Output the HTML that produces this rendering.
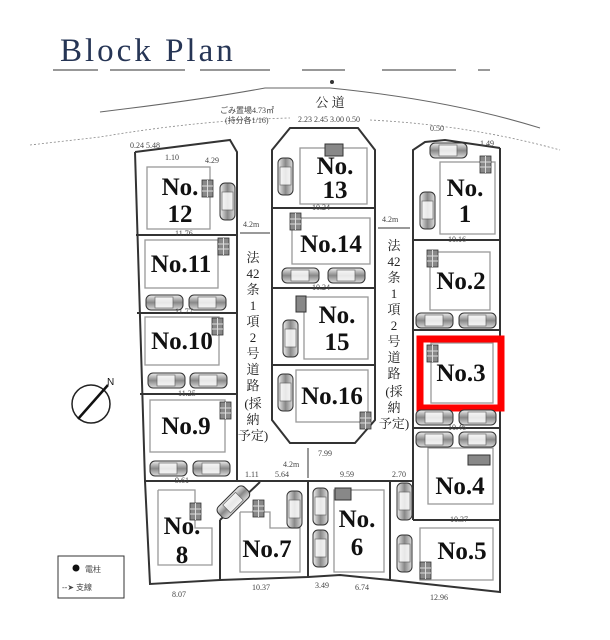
<!DOCTYPE html>
<html><head><meta charset="utf-8"><style>
html,body{margin:0;padding:0;background:#fff;width:610px;height:640px;overflow:hidden}
svg{display:block}
.n{font-family:"Liberation Serif",serif;font-size:25px;font-weight:bold;fill:#111;text-anchor:middle}
.d{font-family:"Liberation Serif",serif;font-size:8px;fill:#444}
.j{font-family:"Liberation Serif","Noto Serif CJK SC",serif;font-size:13px;fill:#222;text-anchor:middle}
</style></head><body>
<svg width="610" height="640" viewBox="0 0 610 640">
<defs>
<linearGradient id="g" x1="0" y1="0" x2="0" y2="1"><stop offset="0" stop-color="#eee"/><stop offset=".5" stop-color="#888"/><stop offset="1" stop-color="#ddd"/></linearGradient>
<linearGradient id="gv" x1="0" y1="0" x2="1" y2="0"><stop offset="0" stop-color="#eee"/><stop offset=".5" stop-color="#888"/><stop offset="1" stop-color="#ddd"/></linearGradient>
<g id="ch"><rect x="0" y="0" width="37" height="15" rx="5" fill="url(#g)" stroke="#333" stroke-width="1"/><rect x="9" y="2" width="18" height="11" fill="#fff" stroke="#555" stroke-width=".7" opacity=".8"/></g>
<g id="cv"><rect x="0" y="0" width="15" height="37" rx="5" fill="url(#gv)" stroke="#333" stroke-width="1"/><rect x="2" y="9" width="11" height="18" fill="#fff" stroke="#555" stroke-width=".7" opacity=".8"/></g>
<g id="m"><rect x="0" y="0" width="11" height="17" fill="#888" stroke="#333" stroke-width=".8"/><line x1="0" y1="6" x2="11" y2="6" stroke="#ddd"/><line x1="0" y1="11" x2="11" y2="11" stroke="#ddd"/><line x1="5.5" y1="0" x2="5.5" y2="17" stroke="#ddd"/></g>
</defs>
<text x="60" y="61" font-family="Liberation Serif,serif" font-size="33" fill="#263555" letter-spacing="3">Block Plan</text>
<g stroke="#777" stroke-width="1.5"><line x1="53" y1="70" x2="98" y2="70"/><line x1="110" y1="70" x2="185" y2="70"/><line x1="200" y1="70" x2="270" y2="70"/><line x1="302" y1="70" x2="345" y2="70"/><line x1="382" y1="70" x2="456" y2="70"/><line x1="478" y1="70" x2="490" y2="70"/></g>
<circle cx="332" cy="82" r="2" fill="#333"/>
<path d="M100,112 Q200,100 265,88 L330,88 Q450,100 540,128" fill="none" stroke="#666" stroke-width="1"/>
<path d="M30,145 L100,137 Q200,120 290,118" fill="none" stroke="#888" stroke-width=".8" stroke-dasharray="2,2"/>
<path d="M370,120 Q470,125 560,150" fill="none" stroke="#888" stroke-width=".8" stroke-dasharray="2,2"/>
<text x="330" y="107" class="j" font-size="12">公 道</text>
<text x="220" y="113" class="d" font-size="9">ごみ置場4.73㎡</text>
<text x="225" y="123" class="d" font-size="9">(持分各1/16)</text>
<g fill="none" stroke="#333" stroke-width="2">
<polyline points="135,152 230,140 237,152 237,481 145,481 135,152"/>
<line x1="136" y1="235" x2="237" y2="235"/><line x1="137" y1="313" x2="237" y2="313"/><line x1="140" y1="394" x2="237" y2="394"/>
<polyline points="145,481 150,584 220,580 308,577 340,575 390,580 500,592 500,148"/>
<line x1="237" y1="481" x2="413" y2="481"/>
<line x1="220" y1="520" x2="220" y2="580"/><line x1="220" y1="520" x2="260" y2="482"/>
<line x1="308" y1="481" x2="308" y2="577"/><line x1="390" y1="481" x2="390" y2="580"/>
<polyline points="413,520 413,150 425,142 445,140 500,148"/>
<line x1="413" y1="240" x2="500" y2="240"/><line x1="413" y1="330" x2="500" y2="330"/><line x1="413" y1="428" x2="500" y2="428"/><line x1="413" y1="520" x2="500" y2="520"/>
<polygon points="272,150 290,128 358,128 375,150 375,420 355,443 290,443 272,420"/>
<line x1="272" y1="208" x2="375" y2="208"/><line x1="272" y1="288" x2="375" y2="288"/><line x1="272" y1="365" x2="375" y2="365"/>
</g>
<g fill="none" stroke="#999" stroke-width="1.3">
<rect x="147" y="167" width="63" height="62"/><rect x="145" y="240" width="73" height="48"/><rect x="145" y="317" width="74" height="48"/><rect x="150" y="400" width="75" height="52"/>
<rect x="300" y="148" width="67" height="56"/><rect x="292" y="218" width="78" height="46"/><rect x="304" y="297" width="64" height="62"/><rect x="296" y="370" width="72" height="52"/>
<rect x="440" y="162" width="55" height="72"/><rect x="430" y="252" width="60" height="58"/><rect x="431" y="343" width="62" height="60"/><rect x="428" y="448" width="65" height="56"/><rect x="420" y="528" width="73" height="52"/>
<polyline points="158,490 195,490 195,528 212,528 212,565 158,565 158,490"/>
<polyline points="240,512 270,512 270,528 300,528 300,572 240,572 240,512"/>
<rect x="334" y="490" width="50" height="82"/>
</g>
<rect x="420" y="339" width="81" height="69" fill="none" stroke="#f00" stroke-width="7"/>
<text class="n" x="180" y="195">No.</text><text class="n" x="180" y="222">12</text>
<text class="n" x="181" y="272">No.11</text><text class="n" x="182" y="349">No.10</text><text class="n" x="186" y="434">No.9</text>
<text class="n" x="335" y="174">No.</text><text class="n" x="335" y="198">13</text>
<text class="n" x="331" y="252">No.14</text>
<text class="n" x="337" y="323">No.</text><text class="n" x="337" y="350">15</text>
<text class="n" x="332" y="404">No.16</text>
<text class="n" x="465" y="196">No.</text><text class="n" x="465" y="222">1</text>
<text class="n" x="461" y="289">No.2</text><text class="n" x="461" y="381">No.3</text>
<text class="n" x="460" y="494">No.4</text><text class="n" x="462" y="559">No.5</text>
<text class="n" x="357" y="527">No.</text><text class="n" x="357" y="555">6</text>
<text class="n" x="267" y="557">No.7</text>
<text class="n" x="182" y="534">No.</text><text class="n" x="182" y="563">8</text>
<use href="#m" x="202" y="180"/><use href="#m" x="218" y="238"/><use href="#m" x="212" y="318"/><use href="#m" x="220" y="402"/>
<use href="#m" x="290" y="213"/><use href="#m" x="253" y="500"/><use href="#m" x="190" y="503"/><use href="#m" x="360" y="412"/><use href="#m" x="427" y="345"/><use href="#m" x="480" y="156"/><use href="#m" x="427" y="250"/><use href="#m" x="420" y="562"/>
<rect x="325" y="144" width="18" height="12" fill="#888" stroke="#333"/><rect x="468" y="455" width="22" height="10" fill="#888" stroke="#333"/><rect x="335" y="488" width="16" height="12" fill="#888" stroke="#333"/><rect x="296" y="296" width="10" height="16" fill="#888" stroke="#333"/>
<use href="#ch" x="146" y="295"/><use href="#ch" x="189" y="295"/>
<use href="#ch" x="148" y="373"/><use href="#ch" x="190" y="373"/>
<use href="#ch" x="150" y="461"/><use href="#ch" x="193" y="461"/>
<use href="#ch" x="282" y="268"/><use href="#ch" x="328" y="268"/>
<use href="#ch" x="416" y="313"/><use href="#ch" x="459" y="313"/>
<use href="#ch" x="416" y="410"/><use href="#ch" x="459" y="410"/>
<use href="#ch" x="416" y="432"/><use href="#ch" x="459" y="432"/>
<use href="#cv" x="220" y="183"/><use href="#cv" x="278" y="158"/><use href="#cv" x="283" y="320"/><use href="#cv" x="278" y="374"/>
<use href="#cv" x="420" y="192"/><use href="#cv" x="287" y="491"/><use href="#cv" x="313" y="488"/><use href="#cv" x="313" y="530"/><use href="#cv" x="397" y="483"/><use href="#cv" x="397" y="535"/>
<use href="#ch" x="430" y="143"/>
<g transform="translate(215,510) rotate(-45)"><use href="#ch" x="0" y="0"/></g>
<g class="j" font-size="13"><text x="253" y="262">法</text><text x="253" y="278">42</text><text x="253" y="294">条</text><text x="253" y="310">1</text><text x="253" y="326">項</text><text x="253" y="342">2</text><text x="253" y="358">号</text><text x="253" y="374">道</text><text x="253" y="390">路</text><text x="253" y="408">(採</text><text x="253" y="424">納</text><text x="253" y="440">予定)</text></g>
<g class="j" font-size="13"><text x="394" y="250">法</text><text x="394" y="266">42</text><text x="394" y="282">条</text><text x="394" y="298">1</text><text x="394" y="314">項</text><text x="394" y="330">2</text><text x="394" y="346">号</text><text x="394" y="362">道</text><text x="394" y="378">路</text><text x="394" y="396">(採</text><text x="394" y="412">納</text><text x="394" y="428">予定)</text></g>
<g stroke="#333" stroke-width="1"><line x1="240" y1="233" x2="270" y2="233"/><line x1="378" y1="228" x2="410" y2="228"/><line x1="308" y1="448" x2="308" y2="478"/></g>
<text class="d" x="243" y="227" font-size="9">4.2m</text><text class="d" x="382" y="222" font-size="9">4.2m</text><text class="d" x="283" y="467" font-size="9">4.2m</text>
<g class="d"><text x="175" y="236">11.76</text><text x="175" y="314">11.77</text><text x="178" y="396">11.25</text><text x="175" y="483">9.61</text><text x="312" y="210">10.24</text><text x="312" y="290">10.24</text><text x="448" y="242">10.16</text><text x="448" y="430">10.46</text><text x="450" y="522">10.37</text><text x="318" y="456">7.99</text><text x="340" y="477">9.59</text><text x="392" y="477">2.70</text><text x="275" y="477">5.64</text><text x="245" y="477">1.11</text><text x="172" y="597">8.07</text><text x="252" y="590">10.37</text><text x="315" y="588">3.49</text><text x="355" y="590">6.74</text><text x="430" y="600">12.96</text><text x="298" y="122">2.23 2.45 3.00 0.50</text><text x="130" y="148">0.24 5.48</text><text x="165" y="160">1.10</text><text x="205" y="163">4.29</text><text x="430" y="131">0.50</text><text x="480" y="146">1.49</text></g>
<circle cx="91" cy="404" r="19" fill="none" stroke="#222" stroke-width="1.5"/>
<line x1="78" y1="419" x2="108" y2="385" stroke="#111" stroke-width="2.5"/>
<text x="107" y="385" font-family="Liberation Sans,sans-serif" font-size="10" fill="#111">N</text>
<rect x="58" y="556" width="66" height="42" fill="#fff" stroke="#333" stroke-width="1"/>
<circle cx="76" cy="568" r="3.5" fill="#111"/>
<text x="85" y="572" class="d" font-size="11" font-family="Liberation Serif,Noto Serif CJK SC,serif">電柱</text>
<text x="62" y="590" class="d" font-size="11" font-family="Liberation Serif,Noto Serif CJK SC,serif">--➤ 支線</text>
</svg>
</body></html>
